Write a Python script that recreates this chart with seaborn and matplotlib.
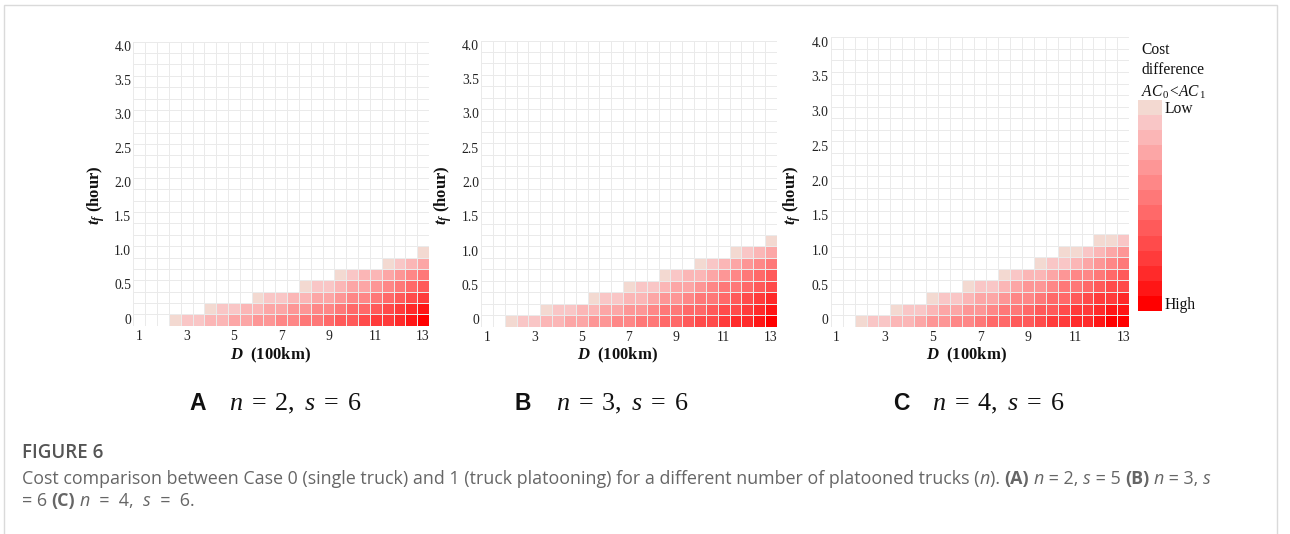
import numpy as np
import pandas as pd
import matplotlib
matplotlib.use("Agg")
import matplotlib.pyplot as plt
import seaborn as sns
from matplotlib.colors import ListedColormap, BoundaryNorm
from matplotlib.patches import Rectangle
import matplotlib.cm as cm

# ---------------- data ----------------
D_values = [1, 1.5, 2, 2.5, 3, 3.5, 4, 4.5, 5, 5.5, 6, 6.5, 7, 7.5, 8, 8.5,
            9, 9.5, 10, 10.5, 11, 11.5, 12, 12.5, 13]
tf_minutes = [0, 10, 20, 30, 40, 50, 60, 70, 80, 90, 100, 110, 120, 130, 140,
              150, 160, 170, 180, 190, 200, 210, 220, 230, 240]
x_tick_labels = ["1", "3", "5", "7", "9", "11", "13"]
y_tick_labels = ["0", "0.5", "1.0", "1.5", "2.0", "2.5", "3.0", "3.5", "4.0"]

# cost-difference level (1 = Low ... 14 = High, 0 = no saving), rows from tf = 0 upward
levels_A = [
    [0, 0, 0, 1, 2, 2, 3, 3, 4, 4, 5, 5, 6, 6, 7, 7, 8, 9, 9, 10, 11, 11, 12, 13, 14],
    [0, 0, 0, 0, 0, 0, 1, 2, 2, 3, 3, 4, 4, 5, 5, 6, 6, 7, 8, 8, 9, 10, 11, 12, 13],
    [0, 0, 0, 0, 0, 0, 0, 0, 0, 0, 1, 2, 2, 3, 3, 4, 4, 5, 6, 6, 7, 8, 9, 10, 11],
    [0, 0, 0, 0, 0, 0, 0, 0, 0, 0, 0, 0, 0, 0, 1, 2, 2, 3, 4, 4, 5, 6, 7, 8, 9],
    [0, 0, 0, 0, 0, 0, 0, 0, 0, 0, 0, 0, 0, 0, 0, 0, 0, 1, 2, 3, 3, 4, 5, 6, 7],
    [0, 0, 0, 0, 0, 0, 0, 0, 0, 0, 0, 0, 0, 0, 0, 0, 0, 0, 0, 0, 0, 1, 2, 3, 4],
    [0, 0, 0, 0, 0, 0, 0, 0, 0, 0, 0, 0, 0, 0, 0, 0, 0, 0, 0, 0, 0, 0, 0, 0, 1],
]
levels_B = [
    [0, 0, 1, 2, 2, 3, 3, 4, 4, 5, 5, 6, 6, 7, 7, 8, 8, 9, 10, 10, 11, 12, 12, 13, 14],
    [0, 0, 0, 0, 0, 1, 2, 2, 3, 3, 4, 4, 5, 5, 6, 7, 7, 8, 8, 9, 10, 10, 11, 12, 13],
    [0, 0, 0, 0, 0, 0, 0, 0, 0, 1, 2, 2, 3, 3, 4, 5, 5, 6, 7, 7, 8, 9, 10, 11, 12],
    [0, 0, 0, 0, 0, 0, 0, 0, 0, 0, 0, 0, 1, 2, 2, 3, 4, 4, 5, 6, 7, 7, 8, 9, 10],
    [0, 0, 0, 0, 0, 0, 0, 0, 0, 0, 0, 0, 0, 0, 0, 1, 2, 3, 3, 4, 5, 6, 7, 8, 9],
    [0, 0, 0, 0, 0, 0, 0, 0, 0, 0, 0, 0, 0, 0, 0, 0, 0, 0, 1, 2, 3, 4, 5, 6, 7],
    [0, 0, 0, 0, 0, 0, 0, 0, 0, 0, 0, 0, 0, 0, 0, 0, 0, 0, 0, 0, 0, 1, 2, 3, 4],
    [0, 0, 0, 0, 0, 0, 0, 0, 0, 0, 0, 0, 0, 0, 0, 0, 0, 0, 0, 0, 0, 0, 0, 0, 1],
]
levels_C = [
    [0, 0, 1, 2, 2, 3, 3, 4, 5, 5, 6, 6, 7, 8, 8, 9, 9, 10, 11, 11, 12, 12, 13, 14, 14],
    [0, 0, 0, 0, 0, 1, 2, 2, 3, 4, 4, 5, 5, 6, 7, 7, 8, 9, 9, 10, 11, 11, 12, 13, 13],
    [0, 0, 0, 0, 0, 0, 0, 0, 1, 2, 2, 3, 4, 4, 5, 6, 6, 7, 8, 8, 9, 10, 11, 11, 12],
    [0, 0, 0, 0, 0, 0, 0, 0, 0, 0, 0, 1, 2, 2, 3, 4, 5, 5, 6, 7, 7, 8, 9, 10, 10],
    [0, 0, 0, 0, 0, 0, 0, 0, 0, 0, 0, 0, 0, 0, 1, 2, 3, 3, 4, 5, 6, 6, 7, 8, 9],
    [0, 0, 0, 0, 0, 0, 0, 0, 0, 0, 0, 0, 0, 0, 0, 0, 0, 1, 2, 2, 3, 4, 5, 6, 7],
    [0, 0, 0, 0, 0, 0, 0, 0, 0, 0, 0, 0, 0, 0, 0, 0, 0, 0, 0, 1, 1, 2, 3, 4, 5],
    [0, 0, 0, 0, 0, 0, 0, 0, 0, 0, 0, 0, 0, 0, 0, 0, 0, 0, 0, 0, 0, 0, 1, 1, 2],
]
panel_letters = ["A", "B", "C"]
panel_params = [r"$n\;=\;2,\ s\;=\;6$", r"$n\;=\;3,\ s\;=\;6$", r"$n\;=\;4,\ s\;=\;6$"]

# ---------------- style ----------------
sns.set_theme(style="white")
plt.rcParams["font.family"] = ["Liberation Serif", "DejaVu Serif"]
plt.rcParams["mathtext.fontset"] = "custom"
plt.rcParams["mathtext.rm"] = "Liberation Serif"
plt.rcParams["mathtext.it"] = "Liberation Serif:italic"
plt.rcParams["mathtext.bf"] = "Liberation Serif:bold:italic"

level_colors = ["#F3D9D1", "#F9C6C6", "#FBB6B6", "#FCA6A6", "#FD9696", "#FE8787",
                "#FE7878", "#FF6969", "#FF5A5A", "#FF4B4B", "#FF3B3B", "#FF2A2A",
                "#FF1616", "#FF0000"]
cmap_cells = ListedColormap(["#FFFFFF"] + level_colors)

W, H = 1290, 534
fig = plt.figure(figsize=(W / 100, H / 100), dpi=100)

def fig_rect(left, top, right, bottom):
    return [left / W, 1 - bottom / H, (right - left) / W, (bottom - top) / H]

axes_px = [(133.4, 41.7, 429.0, 325.7), (481.0, 40.5, 777.0, 326.5), (830.7, 37.3, 1129.3, 326.7)]
ylab_x = [96, 443, 792]
xlab_x = [270, 617, 966]
letter_x = [189, 515, 893]
param_x = [229, 556, 932]

for i, levels in enumerate([levels_A, levels_B, levels_C]):
    grid = np.zeros((len(tf_minutes), len(D_values)))
    grid[:len(levels), :] = np.array(levels)
    df = pd.DataFrame(grid, index=tf_minutes, columns=D_values)
    l, t, r, b = axes_px[i]
    ax = fig.add_axes(fig_rect(l, t, r, b))
    sns.heatmap(df, ax=ax, cmap=cmap_cells, vmin=-0.5, vmax=14.5, cbar=False,
                linewidths=0.6, linecolor="#EAEAEA", square=False)
    ax.invert_yaxis()
    ax.set_xticks([0.5 + 4 * k for k in range(len(x_tick_labels))])
    ax.set_xticklabels(x_tick_labels, rotation=0)
    ax.set_yticks([0.5 + 3 * k for k in range(len(y_tick_labels))])
    ax.set_yticklabels(y_tick_labels, rotation=0)
    ax.tick_params(axis="both", length=0, labelsize=9.8, colors="#222222")
    ax.tick_params(axis="y", pad=1.5)
    ax.tick_params(axis="x", pad=3)
    ax.set_xlabel(r"$\mathbf{D}$  (100km)", fontsize=12, fontweight="bold", color="#111111")
    ax.set_ylabel(r"$\mathbf{t_f}$ (hour)", fontsize=12, fontweight="bold", color="#111111")
    aw, ah = r - l, b - t
    ax.xaxis.set_label_coords((xlab_x[i] - l) / aw, (b - 355) / ah)
    ax.xaxis.label.set_va("center")
    ax.yaxis.set_label_coords((ylab_x[i] - l) / aw, (b - 195) / ah)
    ax.yaxis.label.set_va("center")
    for s in ax.spines.values():
        s.set_visible(False)
    fig.text(letter_x[i] / W, 1 - 410 / H, panel_letters[i], fontsize=16.5,
             fontweight="bold", family="Liberation Sans", va="baseline", ha="left", color="#111111")
    fig.text(param_x[i] / W, 1 - 410 / H, panel_params[i], fontsize=18.8,
             va="baseline", ha="left", color="#111111")

# colour legend
cax = fig.add_axes(fig_rect(1138, 99.7, 1162, 311))
norm = BoundaryNorm(np.arange(0.5, 15.5, 1), len(level_colors))
sm = cm.ScalarMappable(norm=norm, cmap=ListedColormap(level_colors))
cb = fig.colorbar(sm, cax=cax)
cax.invert_yaxis()
cb.set_ticks([])
cax.minorticks_off()
cax.tick_params(which="both", length=0, labelleft=False, labelright=False)
cb.outline.set_visible(False)
fig.text(1141 / W, 1 - 50 / H, "Cost", fontsize=11.2, va="center", ha="left", color="#111111")
fig.text(1141 / W, 1 - 70 / H, "difference", fontsize=11.2, va="center", ha="left", color="#111111")
fig.text(1141 / W, 1 - 92 / H, r"$AC_{\,0}\!<\!AC_{\,1}$", fontsize=11.2, va="center", ha="left", color="#111111")
fig.text(1165 / W, 1 - 109 / H, "Low", fontsize=11.2, va="center", ha="left", color="#111111")
fig.text(1165 / W, 1 - 305 / H, "High", fontsize=11.2, va="center", ha="left", color="#111111")

# frame
fig.patches.append(Rectangle((4 / W, -0.05), (1277 - 4) / W, (1 - 5 / H) + 0.05,
                             transform=fig.transFigure, fill=False, edgecolor="#DADADA", linewidth=1))

# caption
fig.text(22 / W, 1 - 453 / H, "FIGURE 6", fontsize=13.5, family="Open Sans", fontweight="semibold",
         va="center", ha="left", color="#555555")

renderer = fig.canvas.get_renderer()

def rich_line(x_px, y_px, segments, size=12.9, color="#666666"):
    x = x_px
    for txt, style in segments:
        kw = {}
        if style == "b":
            kw["fontweight"] = "bold"
        if style == "i":
            kw["fontstyle"] = "italic"
        tx = fig.text(x / W, 1 - y_px / H, txt, fontsize=size, family="Open Sans",
                      va="center", ha="left", color=color, **kw)
        x += tx.get_window_extent(renderer=renderer).width

rich_line(22, 479, [
    ("Cost comparison between Case 0 (single truck) and 1 (truck platooning) for a different number of platooned trucks (", ""),
    ("n", "i"), ("). ", ""), ("(A)", "b"), (" ", ""), ("n", "i"), (" = 2, ", ""), ("s", "i"),
    (" = 5 ", ""), ("(B)", "b"), (" ", ""), ("n", "i"), (" = 3, ", ""), ("s", "i")])
rich_line(22, 501, [("= 6 ", ""), ("(C)", "b"), (" ", ""), ("n", "i"), ("  =  4,  ", ""),
                    ("s", "i"), ("  =  6.", "")])

fig.savefig("out.png", dpi=100)
